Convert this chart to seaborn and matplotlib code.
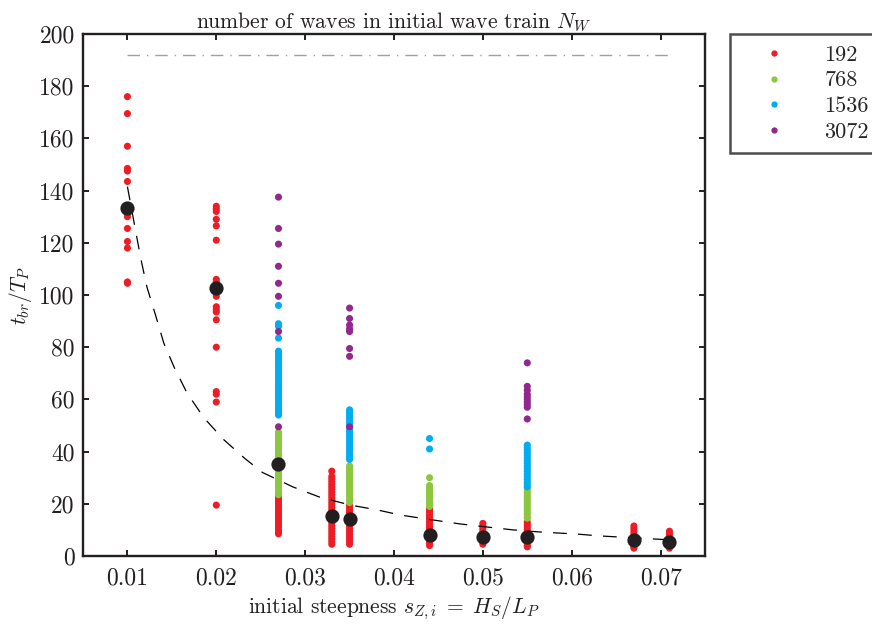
import numpy as np
import pandas as pd
import matplotlib
matplotlib.use("Agg")
import matplotlib.pyplot as plt
from matplotlib.lines import Line2D
import seaborn as sns

# ---------------- data ----------------
series_labels = ["192", "768", "1536", "3072"]
series_colors = ["#EE1C25", "#8DC63F", "#00AEEF", "#92278F"]

# N_W = 192
red_010 = [176, 169.5, 157, 148.5, 147.5, 143.5, 134, 131, 130, 125.5, 120.5, 118, 105, 104.5]
red_020 = [134, 133, 132, 129, 126.5, 121, 106, 105, 103, 101.5, 99.5, 95.5, 94.5, 93.5, 90.5,
           80, 63, 62, 59, 19.5]
red_027 = [23, 22, 21, 20, 19, 18, 17, 16, 15, 14, 13, 12, 11, 10, 9, 8.5]
red_033 = [32.5, 30.5, 29.5, 28.5, 27.5, 26.5, 25.5, 24.5, 23.5, 22.5, 21.5, 20.5, 19.5, 18.5,
           17.5, 16.5, 15.5, 14.5, 13.5, 12.5, 11.5, 10.5, 9.5, 8.5, 7.5, 6.5, 5.5, 4.5]
red_035 = [19.5, 18.5, 17.5, 16.5, 15.5, 14.5, 13.5, 12.5, 11.5, 10.5, 9.5, 8.5, 7.5, 6.5, 5.5, 4.5]
red_044 = [18, 17, 16, 15, 14, 13, 12, 11, 10, 9, 8, 7, 6, 5, 4]
red_050 = [12.5, 11.5, 10.5, 9.5, 8.5, 7.5, 6.5, 5.5, 4.5]
red_055 = [13, 12, 11, 10, 9, 8, 7, 6, 5, 4, 3.5]
red_067 = [11.5, 10.5, 9.5, 8.5, 7.5, 6.5, 5.5, 4.5, 3.5, 3]
red_071 = [9.5, 8.5, 7.5, 6.5, 5.5, 4.5, 3.5, 3]

# N_W = 768
green_027 = [47.5, 46.5, 45.5, 44.5, 43.5, 42.5, 41.5, 40.5, 39.5, 38.5, 37.5, 36.5, 35.5, 34.5,
             33.5, 32.5, 31.5, 30.5, 29.5, 28.5, 27.5, 26.5, 25.5, 24.5, 23.5]
green_035 = [34.5, 33.5, 32.5, 31.5, 30.5, 29.5, 28.5, 27.5, 26.5, 25.5, 24.5, 23.5, 22.5, 21.5, 20.5]
green_044 = [30, 27, 26, 25, 24, 23, 22, 21, 20, 19]
green_055 = [26, 25, 24, 23, 22, 21, 20, 19, 18, 17, 16, 15, 14.5]

# N_W = 1536
blue_027 = [96, 89, 88, 83.5, 78.5, 77.5, 76.5, 75.5, 74.5, 73.5, 72.5, 71.5, 70.5, 69.5, 68.5,
            67.5, 66.5, 65.5, 64.5, 63.5, 62.5, 61.5, 60.5, 59.5, 58.5, 57.5, 56.5, 55.5, 54.5, 54]
blue_035 = [56, 55, 54, 53, 52, 51, 50, 49, 48, 47, 46, 45, 44, 43, 42, 41, 40, 39, 38, 37]
blue_044 = [45, 41]
blue_055 = [42.5, 41.5, 40.5, 39.5, 38.5, 37.5, 36.5, 35.5, 34.5, 33.5, 32.5, 31.5, 30.5, 29.5,
            28.5, 27.5, 26.5]

# N_W = 3072
purple_027 = [137.5, 125.5, 119.5, 111, 104.5, 99.5, 86, 49.5]
purple_035 = [95, 91, 88.5, 87, 86, 79.5, 76.5, 49.5]
purple_055 = [74, 65, 63.5, 62, 61, 60, 59, 58, 57, 52.5]

groups = [
    ("192", 0.010, red_010), ("192", 0.020, red_020), ("192", 0.027, red_027),
    ("192", 0.033, red_033), ("192", 0.035, red_035), ("192", 0.044, red_044),
    ("192", 0.050, red_050), ("192", 0.055, red_055), ("192", 0.067, red_067),
    ("192", 0.071, red_071),
    ("768", 0.027, green_027), ("768", 0.035, green_035), ("768", 0.044, green_044),
    ("768", 0.055, green_055),
    ("1536", 0.027, blue_027), ("1536", 0.035, blue_035), ("1536", 0.044, blue_044),
    ("1536", 0.055, blue_055),
    ("3072", 0.027, purple_027), ("3072", 0.035, purple_035), ("3072", 0.055, purple_055),
]

# black summary dots
mean_x = [0.010, 0.020, 0.027, 0.033, 0.035, 0.044, 0.050, 0.055, 0.067, 0.071]
mean_y = [133.5, 102.7, 35.2, 15.4, 14.1, 8.0, 7.4, 7.2, 6.3, 5.5]

# dashed fit curve
fit_x = [0.0100, 0.0109, 0.0115, 0.0122, 0.0131, 0.0141, 0.0153, 0.0167, 0.0186, 0.0208,
         0.0232, 0.0252, 0.0286, 0.0316, 0.0351, 0.0382, 0.0407, 0.0444, 0.0474, 0.0505,
         0.0534, 0.0564, 0.0606, 0.0631, 0.0694, 0.0710]
fit_y = [141.5, 125, 114, 103, 93, 81.5, 72, 62.5, 53, 44.7,
         37.4, 32, 26.5, 22.6, 19.5, 17.6, 15.7, 13.8, 12.3, 11.1,
         10.0, 9.2, 8.4, 7.7, 6.5, 6.2]

# dash-dot reference line
ref_x = [0.010, 0.071]
ref_y = [192, 192]

x_ticks = [0.01, 0.02, 0.03, 0.04, 0.05, 0.06, 0.07]
y_ticks = [0, 20, 40, 60, 80, 100, 120, 140, 160, 180, 200]

# ---------------- build table ----------------
rows = []
for lab, xv, ys in groups:
    for yv in ys:
        rows.append({"s": xv, "t": yv, "NW": lab})
df = pd.DataFrame(rows)
df["order"] = df["NW"].map({l: i for i, l in enumerate(series_labels)})
df = df.sort_values("order", kind="stable")

# ---------------- style ----------------
sns.set_style("ticks")
plt.rcParams["font.family"] = ["cmr10", "DejaVu Serif"]
plt.rcParams["mathtext.fontset"] = "cm"
plt.rcParams["axes.unicode_minus"] = False
plt.rcParams["axes.formatter.use_mathtext"] = True

ink = "#231F20"
fig = plt.figure(figsize=(8.72, 6.26), dpi=100)
ax = fig.add_axes([83 / 872, 1 - 556 / 626, (705 - 83) / 872, (556 - 34) / 626])

palette = dict(zip(series_labels, series_colors))
sns.scatterplot(data=df, x="s", y="t", hue="NW", hue_order=series_labels, palette=palette,
                s=26, linewidth=0, legend=False, ax=ax, zorder=2)

sns.lineplot(x=ref_x, y=ref_y, ax=ax, color="#a0a0a0", lw=1.0,
             linestyle=(0, (9, 5, 1, 5)), zorder=1)
sns.lineplot(x=fit_x, y=fit_y, ax=ax, color="black", lw=0.9, sort=False, estimator=None,
             linestyle=(0, (11, 9)), zorder=3)
sns.scatterplot(x=mean_x, y=mean_y, ax=ax, color=ink, s=105, linewidth=0, zorder=4)

ax.set_xlim(0.005, 0.075)
ax.set_ylim(0, 200)
ax.set_xticks(x_ticks)
ax.set_xticklabels([f"{v:.2f}" for v in x_ticks])
ax.set_yticks(y_ticks)
ax.set_yticklabels([str(v) for v in y_ticks])

for sp in ax.spines.values():
    sp.set_visible(True)
    sp.set_linewidth(1.7)
    sp.set_color(ink)
ax.tick_params(direction="in", length=4, width=1.4, top=True, right=True,
               labelsize=17, colors=ink, pad=6)
ax.tick_params(axis="x", pad=8)

ax.set_title(r"number of waves in initial wave train $N_W$", fontsize=15.5, pad=5, color=ink)
ax.set_xlabel(r"initial steepness $s_{Z,i} \;=\; H_S/L_P$", fontsize=15.5, labelpad=4, color=ink)
ax.set_ylabel(r"$t_{br}/T_P$", fontsize=15.5, labelpad=4, color=ink)

handles = [Line2D([0], [0], marker="o", linestyle="none", markersize=4.5,
                  markerfacecolor=c, markeredgewidth=0) for c in series_colors]
leg = ax.legend(handles, series_labels, loc="upper left", bbox_to_anchor=(1.04, 1.0),
                borderaxespad=0, frameon=True, fancybox=False, fontsize=16,
                handlelength=3.0, handletextpad=0.75, borderpad=0.5, labelspacing=0.28)
leg.get_frame().set_edgecolor(ink)
leg.get_frame().set_linewidth(1.8)

fig.savefig("out.png", dpi=100)
